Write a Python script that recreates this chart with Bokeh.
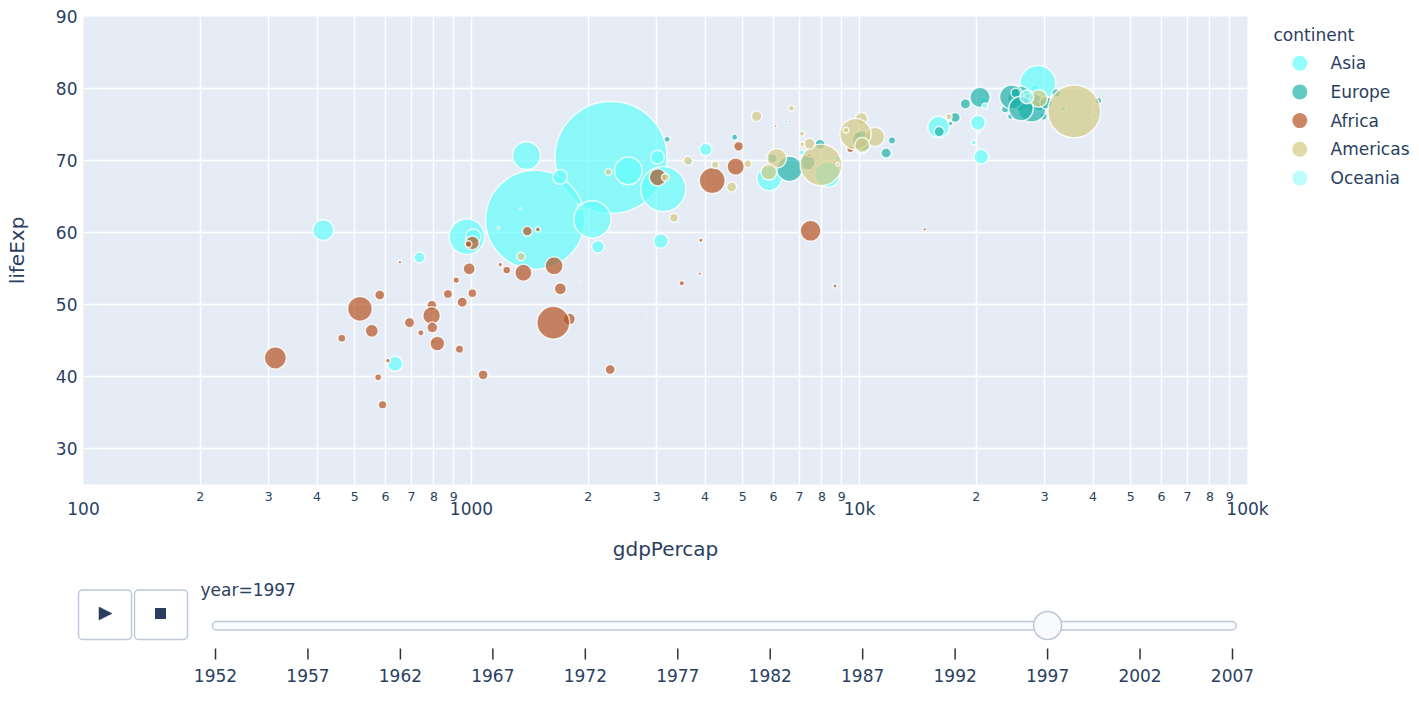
import numpy as np
from bokeh.plotting import figure
from bokeh.models import ColumnDataSource, Range1d, LogAxis, FixedTicker, CustomJSTickFormatter
from bokeh.layouts import column, row
from bokeh.core.properties import value
from bokeh.embed import file_html
from bokeh.resources import INLINE

# ---------------- data (gapminder, year = 1997) ----------------
YEAR = 1997
years = [1952, 1957, 1962, 1967, 1972, 1977, 1982, 1987, 1992, 1997, 2002, 2007]
continents = ["Asia", "Europe", "Africa", "Americas", "Oceania"]
continent_colors = ["#64FCFB", "#20B2AA", "#B55422", "#D3CA84", "#A1FBFB"]

asia_country = ["Afghanistan", "Bahrain", "Bangladesh", "Cambodia", "China", "Hong Kong, China", "India",
                "Indonesia", "Iran", "Iraq", "Israel", "Japan", "Jordan", "Korea, Dem. Rep.", "Korea, Rep.",
                "Kuwait", "Lebanon", "Malaysia", "Mongolia", "Myanmar", "Nepal", "Oman", "Pakistan",
                "Philippines", "Saudi Arabia", "Singapore", "Sri Lanka", "Syria", "Taiwan", "Thailand",
                "Vietnam", "West Bank and Gaza", "Yemen, Rep."]
asia_gdp = [635.34, 20292.02, 972.77, 734.29, 2289.23, 28377.63, 1458.82, 3119.34, 8263.59, 3076.24,
            20896.61, 28816.58, 3645.38, 1690.76, 15993.53, 40300.62, 8754.96, 10132.91, 1902.25, 415.0,
            1010.89, 19702.06, 2049.35, 2536.53, 20586.69, 33519.48, 3015.38, 4014.24, 20206.82, 5852.63,
            1385.90, 7110.67, 2117.48]
asia_life = [41.763, 73.925, 59.412, 56.534, 70.426, 80.0, 61.765, 66.041, 68.042, 58.81, 78.269, 80.69,
             69.772, 67.727, 74.647, 76.156, 70.265, 71.938, 63.625, 60.328, 59.426, 72.499, 61.818, 68.564,
             70.533, 77.158, 70.457, 71.527, 75.25, 67.521, 70.672, 71.096, 58.02]
asia_pop = [22227415, 598561, 123315288, 11782962, 1230075000, 6495918, 959000000, 199278000, 63327987,
            20775703, 5531387, 125956499, 4526235, 21585105, 46173816, 1765345, 3430388, 20476091, 2494803,
            43247867, 23001113, 2283635, 135564834, 75012988, 21229759, 3802309, 18698655, 15081016,
            21628605, 60216677, 76048996, 2826046, 15826497]

europe_country = ["Albania", "Austria", "Belgium", "Bosnia and Herzegovina", "Bulgaria", "Croatia",
                  "Czech Republic", "Denmark", "Finland", "France", "Germany", "Greece", "Hungary", "Iceland",
                  "Ireland", "Italy", "Montenegro", "Netherlands", "Norway", "Poland", "Portugal", "Romania",
                  "Serbia", "Slovak Republic", "Slovenia", "Spain", "Sweden", "Switzerland", "Turkey",
                  "United Kingdom"]
europe_gdp = [3193.05, 29095.92, 27561.20, 4766.36, 5970.39, 9875.60, 16048.51, 29804.35, 23723.95, 25889.78,
              27788.88, 18747.70, 11712.78, 28061.10, 24521.95, 24675.02, 6465.61, 30246.13, 41283.16,
              10159.58, 17641.03, 7346.55, 7914.32, 12126.23, 17161.11, 20445.30, 25266.59, 32135.32,
              6601.43, 26074.53]
europe_life = [72.95, 77.51, 77.53, 73.244, 70.32, 73.68, 74.01, 76.11, 77.13, 78.64, 77.34, 77.869, 71.04,
               78.95, 76.122, 78.82, 75.445, 78.03, 78.32, 72.75, 75.97, 69.72, 72.232, 72.8, 75.13, 78.77,
               79.39, 79.37, 68.835, 77.218]
europe_pop = [3428038, 8069876, 10199787, 3607000, 8066057, 4444595, 10300707, 5283663, 5134406, 58623428,
              82011073, 10502372, 10244684, 271192, 3667233, 57479469, 692651, 15604464, 4405672, 38654957,
              10156415, 22562458, 10336594, 5383010, 2011612, 39855442, 8897619, 7193761, 63047647, 58808266]

africa_country = ["Algeria", "Angola", "Benin", "Botswana", "Burkina Faso", "Burundi", "Cameroon",
                  "Central African Republic", "Chad", "Comoros", "Congo, Dem. Rep.", "Congo, Rep.",
                  "Cote d'Ivoire", "Djibouti", "Egypt", "Equatorial Guinea", "Eritrea", "Ethiopia", "Gabon",
                  "Gambia", "Ghana", "Guinea", "Guinea-Bissau", "Kenya", "Lesotho", "Liberia", "Libya",
                  "Madagascar", "Malawi", "Mali", "Mauritania", "Mauritius", "Morocco", "Mozambique",
                  "Namibia", "Niger", "Nigeria", "Reunion", "Rwanda", "Sao Tome and Principe", "Senegal",
                  "Sierra Leone", "Somalia", "South Africa", "Sudan", "Swaziland", "Tanzania", "Togo",
                  "Tunisia", "Uganda", "Zambia", "Zimbabwe"]
africa_gdp = [4797.30, 2277.14, 1232.98, 8647.14, 946.29, 463.12, 1694.34, 740.51, 1004.96, 1173.62, 312.19,
              3484.06, 1786.27, 1895.02, 4173.18, 2814.48, 913.47, 515.89, 14722.84, 653.73, 1005.25, 869.45,
              796.66, 1360.49, 1186.15, 609.17, 9467.45, 986.30, 692.28, 790.26, 1483.14, 7425.71, 3020.99,
              553.33, 3899.52, 580.31, 1624.94, 6071.94, 589.94, 1339.08, 1392.37, 574.65, 930.60, 7479.19,
              1632.21, 3876.77, 789.19, 982.29, 4876.80, 816.56, 1071.35, 792.45]
africa_life = [69.152, 40.963, 54.777, 52.556, 50.324, 45.326, 52.199, 46.066, 51.573, 60.66, 42.587, 52.962,
               47.991, 53.157, 67.217, 48.245, 53.378, 49.402, 60.461, 55.861, 58.556, 51.455, 44.873, 54.407,
               55.558, 42.221, 71.555, 54.978, 47.495, 49.903, 60.43, 70.736, 67.66, 46.344, 58.909, 51.313,
               47.464, 74.772, 36.087, 63.306, 60.187, 39.897, 43.795, 60.236, 55.373, 54.289, 48.466, 58.39,
               71.973, 44.578, 40.238, 46.809]
africa_pop = [29072015, 9875024, 6066080, 1536536, 10352843, 6121610, 14195809, 3696513, 7562011, 527982,
              47798986, 2800947, 14625967, 417908, 66134291, 439971, 4058319, 59861301, 1126189, 1235767,
              18418288, 8048834, 1193708, 28263827, 1982823, 2200725, 4759670, 14165114, 10419991, 9384984,
              2444741, 1149818, 28529501, 16603334, 1774766, 9666252, 106207839, 684810, 7212583, 145608,
              9535314, 4578212, 6633514, 42835005, 32160729, 1054486, 30686889, 4320890, 9231312, 21210254,
              9417789, 11404948]

americas_country = ["Argentina", "Bolivia", "Brazil", "Canada", "Chile", "Colombia", "Costa Rica", "Cuba",
                    "Dominican Republic", "Ecuador", "El Salvador", "Guatemala", "Haiti", "Honduras", "Jamaica",
                    "Mexico", "Nicaragua", "Panama", "Paraguay", "Peru", "Puerto Rico", "Trinidad and Tobago",
                    "United States", "Uruguay", "Venezuela"]
americas_gdp = [10967.28, 3326.14, 7957.98, 28954.93, 10118.05, 6117.36, 6677.05, 5431.99, 3614.10, 7429.46,
                5154.83, 4684.31, 1341.73, 3160.45, 7121.92, 9767.30, 2253.02, 7113.69, 4247.40, 5838.35,
                16999.43, 8792.57, 35767.43, 9230.24, 10165.50]
americas_life = [73.275, 62.05, 69.388, 78.61, 75.816, 70.313, 77.26, 76.151, 69.957, 72.312, 69.535, 66.322,
                 56.671, 67.659, 72.262, 73.67, 68.426, 73.738, 69.4, 68.386, 76.081, 69.465, 76.81, 74.223,
                 72.146]
americas_pop = [36203463, 7693188, 168546719, 30305843, 14599929, 37657830, 3518107, 10983007, 7992357,
                11911819, 5783439, 9803875, 6913545, 5867957, 2531311, 95895146, 4609572, 2734531, 5154123,
                24748122, 3759430, 1138101, 272911760, 3262838, 22374398]

oceania_country = ["Australia", "New Zealand"]
oceania_gdp = [26997.94, 21050.41]
oceania_life = [78.83, 77.55]
oceania_pop = [18565243, 3676187]

x_major_ticks = [100, 1000, 10000, 100000]
x_major_labels = ["100", "1000", "10k", "100k"]
x_minor_ticks = [200, 300, 400, 500, 600, 700, 800, 900,
                 2000, 3000, 4000, 5000, 6000, 7000, 8000, 9000,
                 20000, 30000, 40000, 50000, 60000, 70000, 80000, 90000]
x_minor_labels = ["2", "3", "4", "5", "6", "7", "8", "9"] * 3
y_ticks = [30, 40, 50, 60, 70, 80, 90]

# ---------------- styling ----------------
FONT = "DejaVu Sans"
TXT = "#2a3f5f"
BG = "#E5ECF6"
MAX_DIAM = 112          # px diameter of the most populous country
ALPHA = 0.7

series = [
    (asia_country, asia_gdp, asia_life, asia_pop),
    (europe_country, europe_gdp, europe_life, europe_pop),
    (africa_country, africa_gdp, africa_life, africa_pop),
    (americas_country, americas_gdp, americas_life, americas_pop),
    (oceania_country, oceania_gdp, oceania_life, oceania_pop),
]
pop_max = max(max(s[3]) for s in series)

LABEL_JS = """
const i = tk.findIndex(t => Math.abs(t - tick) < 1e-6 * t);
return i >= 0 ? lb[i] : "";
"""

BORDER_TOP, BORDER_BOTTOM = 16, 91

# ---------------- main chart ----------------
p = figure(width=1270, height=575, x_axis_type="log",
           x_range=Range1d(100, 100000), y_range=Range1d(25, 90),
           output_backend="svg", toolbar_location=None,
           min_border_left=83, min_border_right=23, min_border_top=BORDER_TOP, min_border_bottom=BORDER_BOTTOM,
           background_fill_color=BG, border_fill_color="white", outline_line_color=None)

all_x_ticks = sorted(x_major_ticks + x_minor_ticks)

# first x axis: small minor labels (2..9)
ax1 = p.xaxis[0]
ax1.ticker = FixedTicker(ticks=all_x_ticks, minor_ticks=[])
ax1.formatter = CustomJSTickFormatter(args=dict(tk=x_minor_ticks, lb=x_minor_labels), code=LABEL_JS)
ax1.major_label_text_font = FONT
ax1.major_label_text_font_size = "12.5px"
ax1.major_label_text_color = TXT
ax1.major_label_standoff = 7

# second x axis: decade labels + title
ax2 = LogAxis(ticker=FixedTicker(ticks=x_major_ticks, minor_ticks=[]))
ax2.formatter = CustomJSTickFormatter(args=dict(tk=x_major_ticks, lb=x_major_labels), code=LABEL_JS)
ax2.major_label_text_font = FONT
ax2.major_label_text_font_size = "17px"
ax2.major_label_text_color = TXT
ax2.major_label_standoff = -5
ax2.axis_label = "gdpPercap"
ax2.axis_label_text_font = FONT
ax2.axis_label_text_font_size = "20px"
ax2.axis_label_text_font_style = "normal"
ax2.axis_label_text_color = TXT
ax2.axis_label_standoff = 15
p.add_layout(ax2, "below")

for ax in (ax1, ax2):
    ax.axis_line_color = None
    ax.major_tick_line_color = None
    ax.minor_tick_line_color = None
    ax.major_tick_out = 0
    ax.major_tick_in = 0
    ax.minor_tick_out = 0
    ax.minor_tick_in = 0

ay = p.yaxis[0]
ay.ticker = FixedTicker(ticks=y_ticks, minor_ticks=[])
ay.major_label_text_font = FONT
ay.major_label_text_font_size = "17px"
ay.major_label_text_color = TXT
ay.major_label_standoff = 6
ay.axis_line_color = None
ay.major_tick_line_color = None
ay.minor_tick_line_color = None
ay.major_tick_out = 0
ay.major_tick_in = 0
ay.minor_tick_out = 0
ay.minor_tick_in = 0
ay.axis_label = "lifeExp"
ay.axis_label_text_font = FONT
ay.axis_label_text_font_size = "20px"
ay.axis_label_text_font_style = "normal"
ay.axis_label_text_color = TXT
ay.axis_label_standoff = 24

p.xgrid[0].ticker = FixedTicker(ticks=all_x_ticks, minor_ticks=[])
p.ygrid[0].ticker = FixedTicker(ticks=y_ticks, minor_ticks=[])
for g in (p.xgrid[0], p.ygrid[0]):
    g.grid_line_color = "white"
    g.grid_line_width = 1.5

for cont, color, (names, gdp, life, pop) in zip(continents, continent_colors, series):
    pop_arr = np.array(pop, dtype=float)
    src = ColumnDataSource(dict(x=gdp, y=life, size=MAX_DIAM * np.sqrt(pop_arr / pop_max),
                                country=names, pop=pop))
    p.scatter("x", "y", size="size", source=src, fill_color=color, fill_alpha=ALPHA,
              line_color="white", line_alpha=0.8, line_width=1.5)

# ---------------- legend panel (screen-pixel coordinates) ----------------
leg = figure(width=149, height=575, x_range=Range1d(1270, 1419),
             y_range=Range1d(575 - BORDER_BOTTOM, BORDER_TOP),
             output_backend="svg", toolbar_location=None, x_axis_location=None, y_axis_location=None,
             min_border_left=0, min_border_right=0, min_border_top=BORDER_TOP, min_border_bottom=BORDER_BOTTOM,
             outline_line_color=None, background_fill_color="white", border_fill_color="white")
leg.grid.visible = False
leg_y = [62.7, 91.4, 120.1, 148.8, 177.5]
leg.scatter(x=[1299.3] * 5, y=leg_y, size=15, fill_color=continent_colors, fill_alpha=ALPHA, line_color=None)
leg.text(x=[1330] * 5, y=leg_y, text=continents, text_font=value(FONT),
         text_font_size="17px", text_color=TXT, text_align="left", text_baseline="middle")
leg.text(x=[1273], y=[34.5], text=["continent"], text_font=value(FONT), text_font_size="17px",
         text_color=TXT, text_align="left", text_baseline="middle")

# ---------------- slider panel ----------------
px_per_year = (1232 - 215) / (years[-1] - years[0])
yr_start = years[0] - 215 / px_per_year
yr_end = yr_start + 1419 / px_per_year
sl = figure(width=1419, height=127, x_range=Range1d(0, 1419), y_range=Range1d(702, 575),
            extra_x_ranges={"yr": Range1d(yr_start, yr_end)},
            output_backend="svg", toolbar_location=None, x_axis_location=None, y_axis_location=None,
            min_border=0, outline_line_color=None, background_fill_color="white",
            border_fill_color="white")
sl.grid.visible = False

# play / stop buttons
sl.quad(left=[78, 134], right=[131, 187], top=[589.5, 589.5], bottom=[639, 639],
        fill_color="white", line_color="#BEC8D9", line_width=1.5, border_radius=4)
sl.patch(x=[98.5, 111.5, 98.5], y=[606.5, 613, 619.5], fill_color=TXT, line_color=TXT, line_width=0.5)
sl.quad(left=[154.5], right=[165.5], top=[607.5], bottom=[618.5], fill_color=TXT, line_color=None)

# current value
sl.text(x=[200], y=[589.5], text=[f"year={YEAR}"], text_font=value(FONT), text_font_size="17px",
        text_color=TXT, text_align="left", text_baseline="middle")

# rail
sl.quad(left=[212], right=[1235.5], top=[621], bottom=[629.5], fill_color="#F8FAFC",
        line_color="#BEC8D9", line_width=1.5, border_radius=4)

# ticks and labels
sl.segment(x0=years, y0=[648] * len(years), x1=years, y1=[659] * len(years), x_range_name="yr",
           line_color="#333333", line_width=1.5)
sl.text(x=years, y=[675] * len(years), text=[str(v) for v in years], x_range_name="yr",
        text_font=value(FONT), text_font_size="17px", text_color=TXT, text_align="center",
        text_baseline="middle")

# handle
sl.scatter(x=[YEAR], y=[625], size=28, x_range_name="yr", fill_color="#F8FAFC",
           line_color="#BEC8D9", line_width=1.5)

layout = column(row(p, leg), sl)
open("out.html", "w").write(file_html(layout, INLINE))
